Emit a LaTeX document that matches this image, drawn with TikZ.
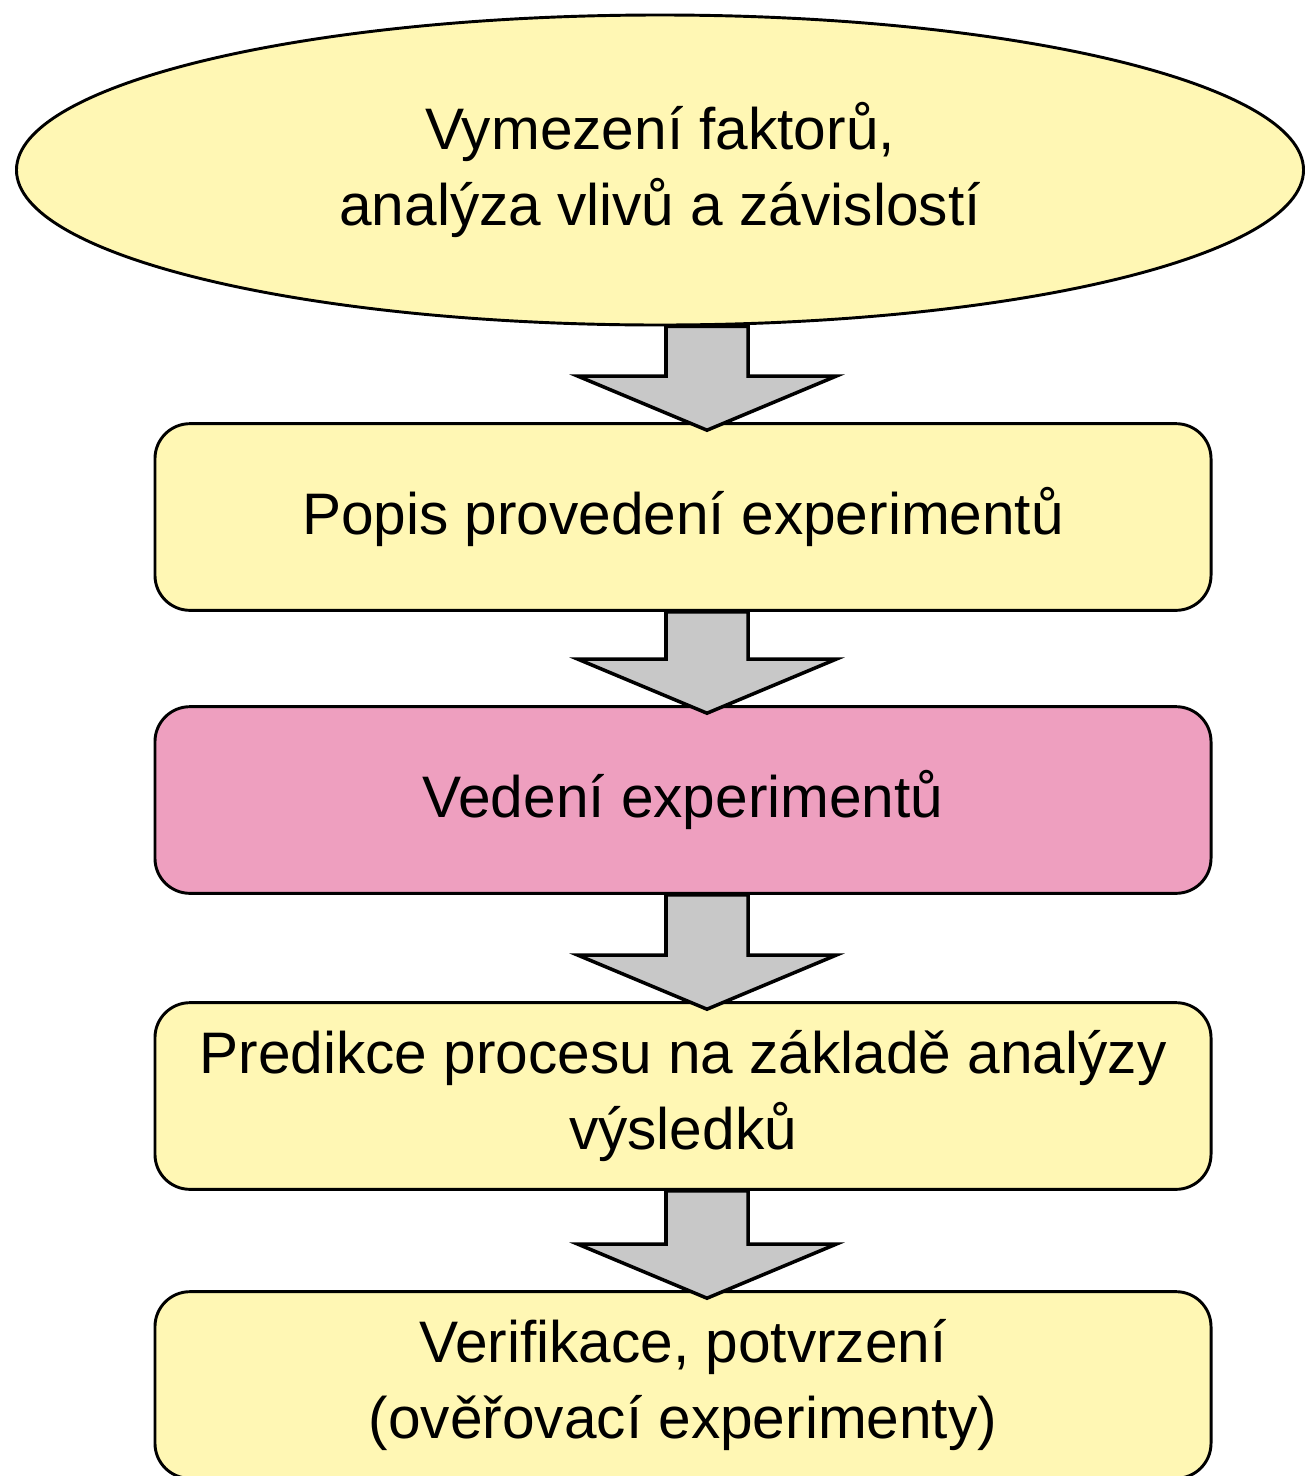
\documentclass[tikz,border=0pt]{standalone}
\usepackage{fontspec}
\setmainfont{Liberation Sans}
\usetikzlibrary{shapes.geometric,calc}

\definecolor{krokzluta}{HTML}{FFF7B4}
\definecolor{krokruzova}{HTML}{EE9FBF}
\definecolor{sipkaseda}{HTML}{C8C8C8}

% blokova sipka mezi dvema kroky
\newcommand{\blocksipka}[2]{%
  \draw[sipka] ($(#1.south -| ax)+(-41,0)$) -- ($(#2.north -| ax)+(-41,-46)$)
    -- ($(#2.north -| ax)+(-129,-46)$) -- ($(#2.north -| ax)+(0,8)$)
    -- ($(#2.north -| ax)+(129,-46)$) -- ($(#2.north -| ax)+(41,-46)$)
    -- ($(#1.south -| ax)+(41,0)$) -- cycle;}

\begin{document}
\begin{tikzpicture}[x=0.03cm,y=-0.03cm,
  every node/.style={font=\fontsize{50}{65}\selectfont,align=center,line width=2.5pt,draw=black},
  krok/.style={rectangle,rounded corners=1.05cm,fill=krokzluta,minimum width=31.68cm,minimum height=5.6cm,inner sep=0pt},
  sipka/.style={fill=sipkaseda,draw=black,line width=3pt,line join=miter}]
  \useasboundingbox (0,0) rectangle (1304,1476);

  \node[ellipse,fill=krokzluta,minimum width=38.61cm,minimum height=9.3cm,inner sep=0pt] (vymezeni) at (660,170)
    {Vymezení faktorů,\\analýza vlivů a závislostí};
  \node[krok] (popis) at (683,517) {Popis provedení experimentů};
  \node[krok,fill=krokruzova] (vedeni) at (683,800) {Vedení experimentů};
  \node[krok] (predikce) at (683,1096) {Predikce procesu na základě analýzy\\výsledků};
  \node[krok] (verifikace) at (683,1385) {Verifikace, potvrzení\\(ověřovací experimenty)};

  \coordinate (ax) at (707,0);
  \blocksipka{vymezeni}{popis}
  \blocksipka{popis}{vedeni}
  \blocksipka{vedeni}{predikce}
  \blocksipka{predikce}{verifikace}
\end{tikzpicture}
\end{document}
